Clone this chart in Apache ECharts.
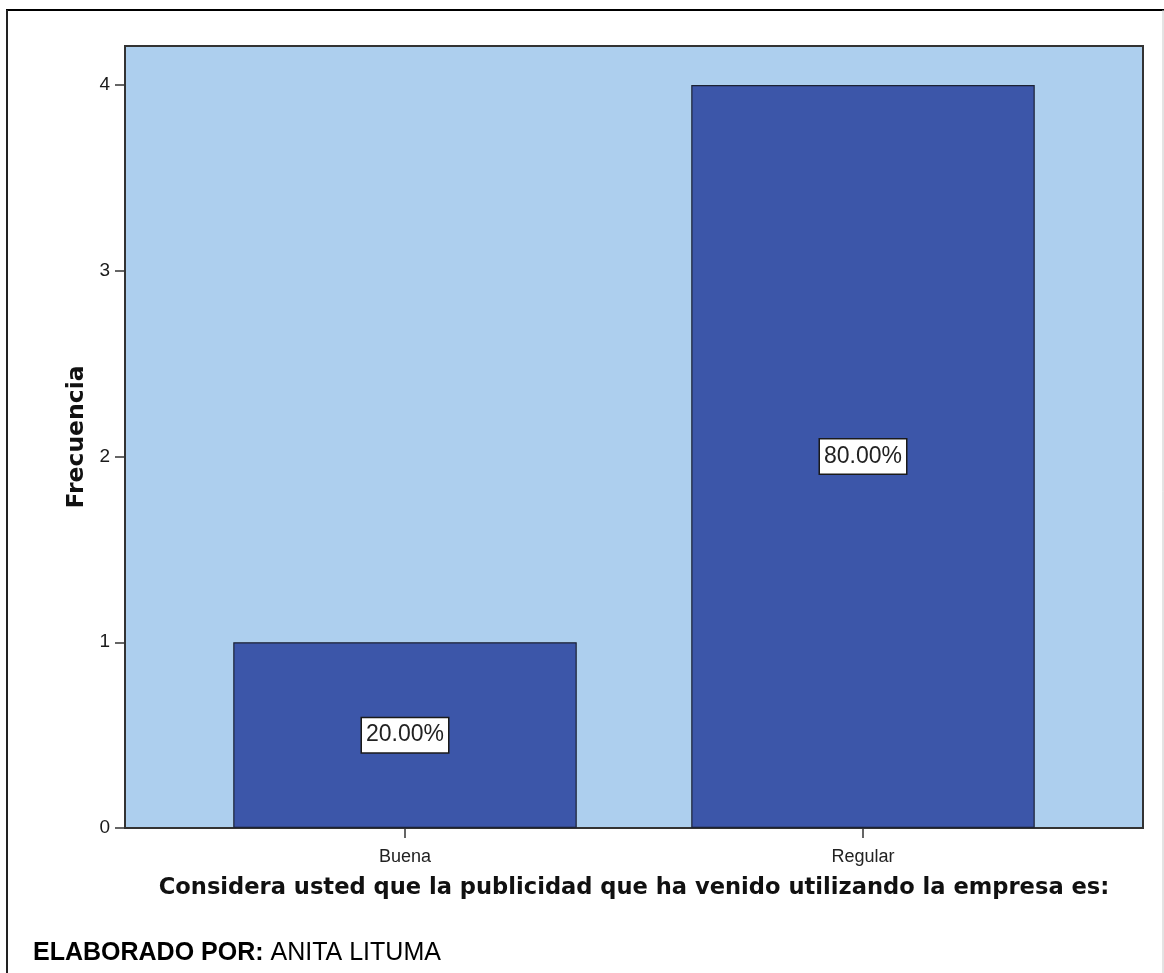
<!DOCTYPE html>
<html>
<head>
<meta charset="utf-8">
<title>Frecuencia</title>
<script src="https://cdn.jsdelivr.net/npm/echarts@6/dist/echarts.min.js"></script>
<style>
  html, body { margin: 0; padding: 0; background: #ffffff; }
  #chart { width: 1164px; height: 973px; }
</style>
</head>
<body>
<div id="chart"></div>
<script>
// Survey answers and their counts
const categories = ['Buena', 'Regular'];
const frequencies = [1, 4];
const yTicks = [0, 1, 2, 3, 4];
const yMax = 4.21;

const xTitle = 'Considera usted que la publicidad que ha venido utilizando la empresa es:';
const yTitle = 'Frecuencia';

const total = frequencies.reduce((a, b) => a + b, 0);
const pct = v => (v / total * 100).toFixed(2) + '%';

const sans = '"Liberation Sans", Arial, sans-serif';
const bold = '"DejaVu Sans", Verdana, sans-serif';

const chart = echarts.init(document.getElementById('chart'), null, { renderer: 'canvas' });

chart.setOption({
  backgroundColor: '#ffffff',
  animation: false,
  grid: [
    // plot frame with the light blue fill
    { left: 125, top: 46, width: 1018, height: 782, show: true,
      backgroundColor: '#ADCFEE', borderColor: '#333333', borderWidth: 2 },
    // inner band holding the bars
    { left: 176, top: 46, width: 916, height: 782 }
  ],
  xAxis: [
    { gridIndex: 0, type: 'value', min: 0, max: 1, show: false },
    {
      gridIndex: 1, type: 'category', data: categories,
      axisLine: { show: false },
      axisTick: { show: true, alignWithLabel: true, length: 10,
                  lineStyle: { color: '#333333', width: 1.5 } },
      axisLabel: { color: '#222222', fontFamily: sans, fontSize: 18, margin: 20 },
      name: xTitle, nameLocation: 'middle', nameGap: 49,
      nameTextStyle: { color: '#111111', fontFamily: bold, fontWeight: 'bold', fontSize: 22.6 }
    }
  ],
  yAxis: [
    {
      gridIndex: 0, type: 'value', min: 0, max: yMax,
      splitLine: { show: false },
      axisLine: { show: true, lineStyle: { color: '#333333', width: 2 } },
      axisTick: { show: true, length: 10, customValues: yTicks,
                  lineStyle: { color: '#333333', width: 1.5 } },
      axisLabel: { customValues: yTicks, color: '#1a1a1a', fontFamily: sans,
                   fontSize: 19, margin: 15 },
      name: yTitle, nameLocation: 'middle', nameGap: 30,
      nameTextStyle: { color: '#111111', fontFamily: bold, fontWeight: 'bold', fontSize: 23.5 }
    },
    { gridIndex: 1, type: 'value', min: 0, max: yMax, show: false }
  ],
  series: [{
    type: 'bar',
    xAxisIndex: 1, yAxisIndex: 1,
    data: frequencies,
    barWidth: '75%',
    itemStyle: { color: '#3C56A9', borderColor: '#1C2233', borderWidth: 1.2 },
    label: {
      show: true, position: 'inside',
      formatter: p => pct(p.value),
      color: '#222222', fontFamily: sans, fontSize: 23,
      backgroundColor: '#ffffff', borderColor: '#1a1a1a', borderWidth: 1.5,
      padding: [6, 4, 5, 4]
    }
  }],
  graphic: [
    // page frame
    { type: 'line', shape: { x1: 6, y1: 10, x2: 1164, y2: 10 },
      style: { stroke: '#000000', lineWidth: 2 } },
    { type: 'line', shape: { x1: 7, y1: 10, x2: 7, y2: 973 },
      style: { stroke: '#222222', lineWidth: 2 } },
    { type: 'line', shape: { x1: 1163, y1: 10, x2: 1163, y2: 973 },
      style: { stroke: '#c8c8c8', lineWidth: 1 } },
    // author credit
    { type: 'text',
      style: {
        x: 33, y: 953, verticalAlign: 'middle',
        text: '{b|ELABORADO POR:}{n| ANITA LITUMA}',
        rich: {
          b: { fontFamily: sans, fontWeight: 'bold', fontSize: 25, fill: '#000000' },
          n: { fontFamily: sans, fontSize: 25, fill: '#000000' }
        }
      } }
  ]
});
</script>
</body>
</html>
